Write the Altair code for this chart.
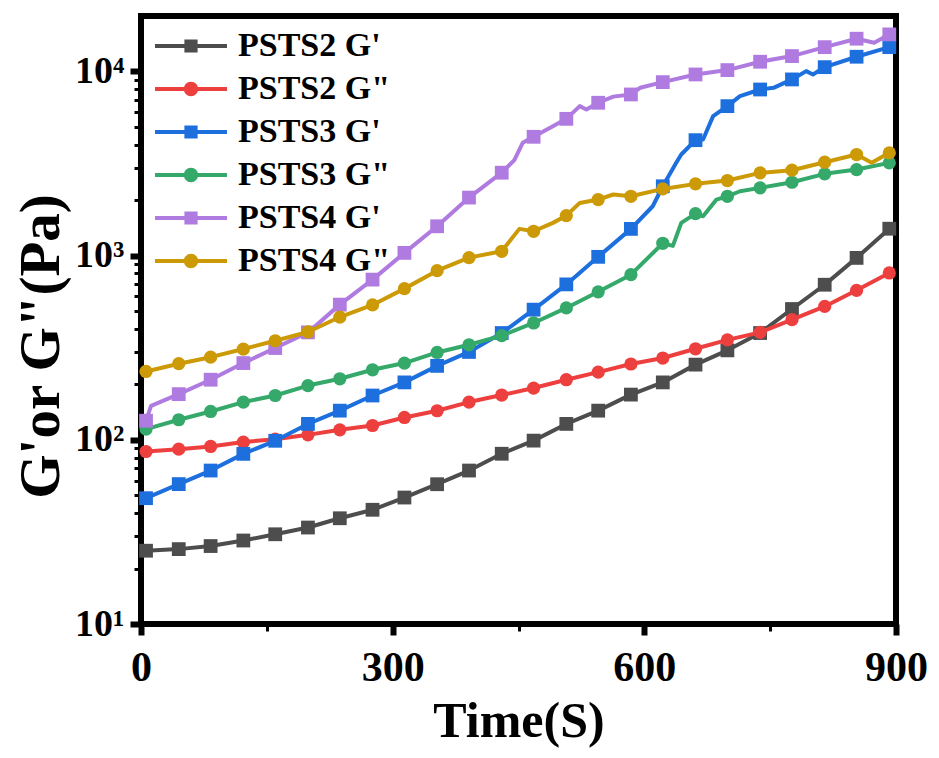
import altair as alt
import pandas as pd

SERIES = ["PSTS2 G'", 'PSTS2 G"', "PSTS3 G'", 'PSTS3 G"', "PSTS4 G'", 'PSTS4 G"']
COLORS = ["#4d4d4d", "#ee3f3f", "#1d6fde", "#34a96a", "#b07be0", "#cc9a06"]
MARKERS = ["square", "circle", "square", "circle", "square", "circle"]

# marker times (s)
TIME = [6, 45, 83, 122, 160, 199, 237, 276, 314, 353, 391, 430,
        468, 507, 545, 584, 622, 661, 699, 738, 776, 815, 853, 892]

PSTS2_G1 = [25, 25.5, 26.5, 28.4, 30.7, 33.4, 37.5, 41.7, 48.6, 57.4, 68.1, 84,
            99, 122, 144, 176, 205, 256, 306, 380, 513, 695, 972, 1400]
PSTS2_G2 = [86.4, 89, 92, 97.2, 100.8, 106.4, 113.3, 119.6, 132.2, 143.8, 160.3, 175,
            191, 212, 233, 258, 278, 312, 349, 383, 449, 530, 648, 805]
PSTS3_G1 = [48.2, 57.5, 68.1, 83.9, 98.8, 122, 144, 174, 205, 252, 300, 380,
            509, 698, 985, 1397, 2380, 4235, 6480, 7980, 9050, 10550, 12020, 13550]
PSTS3_G2 = [114.3, 128.5, 142.5, 160.3, 174, 197, 214.5, 240, 261, 298, 328, 368,
            431, 520, 636, 788, 1167, 1691, 2100, 2333, 2503, 2780, 2933, 3190]
PSTS4_G1 = [127, 177, 212, 261, 315, 383, 542, 741, 1035, 1443, 2066, 2820,
            4418, 5530, 6760, 7500, 8750, 9630, 10170, 11290, 12120, 13550, 15060, 15890]
PSTS4_G2 = [235, 259, 281, 311, 345, 385, 464, 540, 662, 829, 975, 1056,
            1356, 1649, 2016, 2100, 2303, 2453, 2557, 2814, 2910, 3215, 3540, 3615]

PSTS3_G1_XT = [610, 638, 644, 670, 682, 714, 754, 793, 801]
PSTS3_G1_XV = [1854, 3190, 3540, 4270, 5720, 7340, 8150, 10040, 9630]
PSTS3_G2_XT = [634, 644, 670, 686, 714]
PSTS3_G2_XV = [1130, 1506, 1636, 2016, 2236]
PSTS4_G1_XT = [12, 445, 455, 491, 523, 531, 563, 595, 874]
PSTS4_G1_XV = [153, 3300, 4100, 5045, 6480, 6210, 7300, 8150, 14320]
PSTS4_G2_XT = [451, 491, 523, 563, 871]
PSTS4_G2_XV = [1397, 1506, 1933, 2147, 3190]

MARKER_VALUES = [PSTS2_G1, PSTS2_G2, PSTS3_G1, PSTS3_G2, PSTS4_G1, PSTS4_G2]
EXTRA = [([], []), ([], []), (PSTS3_G1_XT, PSTS3_G1_XV), (PSTS3_G2_XT, PSTS3_G2_XV),
         (PSTS4_G1_XT, PSTS4_G1_XV), (PSTS4_G2_XT, PSTS4_G2_XV)]

Y_VALUES = [10, 20, 30, 40, 50, 60, 70, 80, 90,
            100, 200, 300, 400, 500, 600, 700, 800, 900,
            1000, 2000, 3000, 4000, 5000, 6000, 7000, 8000, 9000, 10000]
X_VALUES = [0, 150, 300, 450, 600, 750, 900]

# legend symbols: a line with a marker on it
SQ_PATH = "M-3,-0.17H3V0.17H-3Z M-0.55,-0.55H0.55V0.55H-0.55Z"
CI_PATH = "M-3,-0.17H3V0.17H-3Z M0.6,0A0.6,0.6 0 1,1 -0.6,0A0.6,0.6 0 1,1 0.6,0Z"
LEGEND_PATHS = [SQ_PATH, CI_PATH, SQ_PATH, CI_PATH, SQ_PATH, CI_PATH]

FONT = "Liberation Serif"

pts_rows, line_rows = [], []
for s, vals, (xt, xv) in zip(SERIES, MARKER_VALUES, EXTRA):
    for t, v in zip(TIME, vals):
        pts_rows.append({"series": s, "t": t, "v": v})
        line_rows.append({"series": s, "t": t, "v": v})
    for t, v in zip(xt, xv):
        line_rows.append({"series": s, "t": t, "v": v})
df_pts = pd.DataFrame(pts_rows)
df_line = pd.DataFrame(line_rows).sort_values(["series", "t"])

x_axis = alt.Axis(
    values=X_VALUES, title="Time(S)", domain=False, grid=False,
    labelExpr="datum.value % 300 == 0 ? datum.label : ''",
    labelFont=FONT, labelFontSize=42, labelFontWeight="bold", labelColor="black",
    labelPadding=12, labelFlush=False, labelOverlap=False,
    tickColor="black",
    tickSize={"condition": {"test": "datum.value % 300 == 0", "value": 11}, "value": 7},
    tickWidth={"condition": {"test": "datum.value % 300 == 0", "value": 6}, "value": 3},
    titleFont=FONT, titleFontSize=50, titleFontWeight="bold", titleColor="black",
    titleY=97, titleBaseline="middle",
)
major_y = "datum.value == 10 || datum.value == 100 || datum.value == 1000 || datum.value == 10000"
y_axis = alt.Axis(
    values=Y_VALUES, title="G'or G\"(Pa)", domain=False, grid=False,
    labelExpr="datum.value == 10 ? '10¹' : datum.value == 100 ? '10²' : datum.value == 1000 ? '10³' : datum.value == 10000 ? '10⁴' : ''",
    labelFont=FONT, labelFontSize=38, labelFontWeight="bold", labelColor="black",
    labelPadding=6, labelFlush=False, labelOverlap=False,
    tickColor="black",
    tickSize={"condition": {"test": major_y, "value": 11}, "value": 7},
    tickWidth={"condition": {"test": major_y, "value": 6}, "value": 3},
    titleFont=FONT, titleFontSize=57, titleFontWeight="bold", titleColor="black",
    titleX=-100, titleY=330, titleAngle=270, titleAlign="center", titleBaseline="middle",
)

X = alt.X("t:Q", scale=alt.Scale(domain=[0, 900], nice=False, zero=False), axis=x_axis)
Y = alt.Y("v:Q", scale=alt.Scale(type="log", domain=[10, 20000], nice=False), axis=y_axis)

layers = []
for s, m, c in zip(SERIES, MARKERS, COLORS):
    ln = alt.Chart(df_line).transform_filter(alt.datum.series == s).mark_line(
        strokeWidth=4, strokeJoin="round", color=c
    ).encode(x=X, y=Y, order="t:Q")
    pt = alt.Chart(df_pts).transform_filter(alt.datum.series == s).mark_point(
        filled=True, shape=m, size=190 if m == "square" else 175, opacity=1, color=c
    ).encode(x=X, y=Y)
    layers += [ln, pt]

legend = alt.Legend(
    title=None, orient="none", legendX=33, legendY=13, padding=0,
    labelFont=FONT, labelFontSize=34, labelFontWeight="bold", labelColor="black",
    labelOffset=30, labelLimit=400, symbolSize=576, symbolOpacity=1,
    symbolStrokeWidth=0, rowPadding=9,
)
legend_layer = alt.Chart(df_pts).mark_point(filled=True, opacity=0).encode(
    x=X, y=Y,
    fill=alt.Fill("series:N", scale=alt.Scale(domain=SERIES, range=COLORS), legend=legend),
    shape=alt.Shape("series:N", scale=alt.Scale(domain=SERIES, range=LEGEND_PATHS), legend=legend),
)
layers.append(legend_layer)

chart = alt.layer(*layers).properties(
    width=755, height=608,
    autosize=alt.AutoSizeParams(type="none"),
    padding={"left": 133, "top": 8, "right": 35, "bottom": 124},
).configure_view(stroke="black", strokeWidth=6).configure_axis(tickCap="butt")

chart.save("out.html", embed_options={"renderer": "svg", "actions": False})
